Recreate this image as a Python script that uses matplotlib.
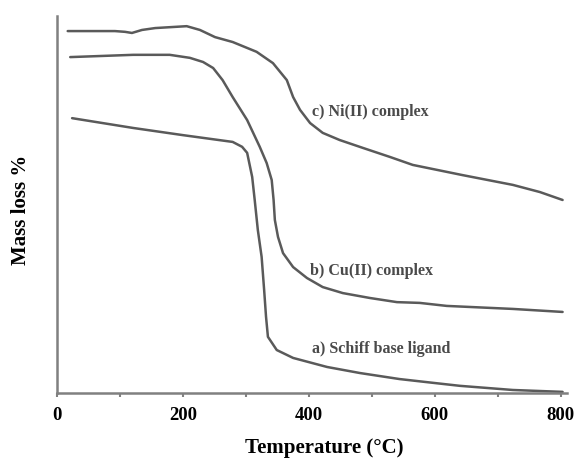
import matplotlib
matplotlib.use("Agg")
import matplotlib.pyplot as plt

# Temperature (°C) and mass (%)
ni_T = [17, 92, 108, 119, 135, 156, 206, 227, 251, 279, 317, 343, 365, 375, 386, 402, 422, 449, 486, 529, 565, 644, 724, 767, 803]
ni_m = [96.0, 96.0, 95.8, 95.5, 96.3, 96.8, 97.3, 96.3, 94.4, 93.1, 90.5, 87.5, 83.0, 78.5, 75.1, 71.6, 69.0, 67.1, 65.0, 62.6, 60.5, 57.8, 55.2, 53.3, 51.2]

cu_T = [21, 121, 179, 211, 232, 248, 263, 279, 302, 322, 333, 341, 344, 346, 351, 359, 375, 397, 422, 454, 497, 540, 576, 619, 724, 803]
cu_m = [89.1, 89.7, 89.7, 88.9, 87.8, 86.2, 83.0, 78.5, 72.4, 65.3, 61.0, 56.5, 51.2, 45.9, 41.4, 37.1, 33.4, 30.5, 28.1, 26.5, 25.2, 24.1, 23.9, 23.1, 22.3, 21.5]

lig_T = [24, 121, 200, 279, 294, 302, 310, 314, 319, 325, 329, 332, 335, 349, 375, 429, 481, 544, 597, 640, 724, 803]
lig_m = [72.9, 70.3, 68.4, 66.6, 65.3, 63.7, 57.3, 51.2, 43.2, 36.1, 27.3, 20.2, 14.9, 11.4, 9.3, 6.9, 5.3, 3.7, 2.7, 1.9, 0.8, 0.3]

labels = ["c) Ni(II) complex", "b) Cu(II) complex", "a) Schiff base ligand"]
label_T = [405, 402, 405]
label_m = [74.5, 32.4, 11.7]

xticks = [0, 200, 400, 600, 800]
minor_ticks = [100, 300, 500, 700]

serif = ["Liberation Serif", "DejaVu Serif"]

fig = plt.figure(figsize=(5.76, 4.59), dpi=100)
ax = fig.add_axes([57 / 576, 1 - 393 / 459, (567 - 57) / 576, (393 - 16) / 459])

line_col = "#5a5a5a"
for T, m in [(ni_T, ni_m), (cu_T, cu_m), (lig_T, lig_m)]:
    ax.plot(T, m, color=line_col, lw=1.8, solid_capstyle="round", solid_joinstyle="round")

for txt, tx, ty in zip(labels, label_T, label_m):
    ax.text(tx, ty, txt, family=serif, fontweight="bold", fontsize=11.5,
            color="#4a4a4a", ha="left", va="center")

ax.set_xlim(0, 810)
ax.set_ylim(0, 100)
ax.set_xticks(xticks)
ax.set_xticks(minor_ticks, minor=True)
ax.set_xticklabels([str(t) for t in xticks], family=serif, fontweight="bold", fontsize=13.5)
ax.set_yticks([])
ax.tick_params(axis="x", which="both", direction="out", length=3, width=1.5, color="#808080", pad=7)

for s in ["top", "right"]:
    ax.spines[s].set_visible(False)
for s in ["left", "bottom"]:
    ax.spines[s].set_color("#808080")
    ax.spines[s].set_linewidth(1.8)

ax.set_xlabel("Temperature (°C)", family=serif, fontweight="bold", fontsize=15)
ax.xaxis.set_label_coords((324 - 57) / (567 - 57), 1 - (448 - 16) / (393 - 16))
ax.xaxis.label.set_va("center")
ax.set_ylabel("Mass loss %", family=serif, fontweight="bold", fontsize=15)
ax.yaxis.set_label_coords((21 - 57) / (567 - 57), 1 - (210 - 16) / (393 - 16))
ax.yaxis.label.set_va("center")

fig.savefig("out.png", dpi=100)
